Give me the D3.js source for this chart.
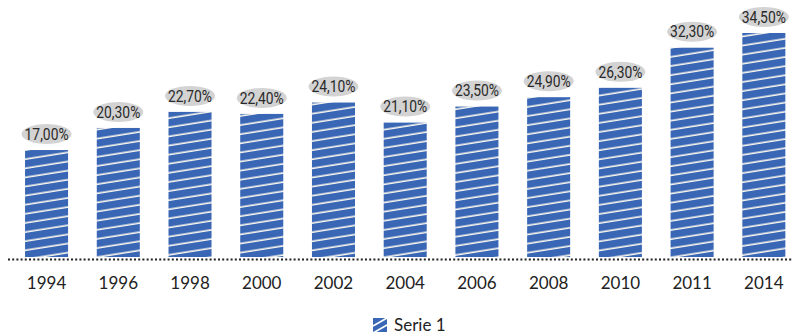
<!DOCTYPE html>
<html>
<head>
<meta charset="utf-8">
<script src="https://cdn.jsdelivr.net/npm/d3@7"></script>
<style>
  html, body { margin: 0; padding: 0; background: #fff; }
  svg { display: block; }
</style>
</head>
<body>
<svg id="chart" width="795" height="336"></svg>
<script>
// Share per year (%)
const years = ["1994", "1996", "1998", "2000", "2002", "2004", "2006", "2008", "2010", "2011", "2014"];
const values = [17.00, 20.30, 22.70, 22.40, 24.10, 21.10, 23.50, 24.90, 26.30, 32.30, 34.50];
const seriesName = "Serie 1";

const baseY = 257;
const svg = d3.select("#chart");

const x = d3.scaleBand()
  .domain(years)
  .range([10.7, 799.7])
  .paddingInner(0.4)
  .paddingOuter(0.2);

// zero sits just below the dotted baseline
const y = d3.scaleLinear()
  .domain([0, 34.5])
  .range([263.7, 33]);

const fmt = v => v.toFixed(2).replace(".", ",") + "%";

// Diagonal white stripes on blue
const defs = svg.append("defs");
const pat = defs.append("pattern")
  .attr("id", "hatch")
  .attr("patternUnits", "userSpaceOnUse")
  .attr("width", 9)
  .attr("height", 9)
  .attr("patternTransform", "rotate(-9)");
pat.append("rect").attr("width", 9).attr("height", 9).attr("fill", "#3a67b5");
pat.append("rect").attr("y", 7.4).attr("width", 9).attr("height", 1.6).attr("fill", "#fbf8ee");

// Bars
svg.append("g").selectAll("rect")
  .data(values)
  .join("rect")
  .attr("x", (d, i) => x(years[i]))
  .attr("y", d => y(d))
  .attr("width", x.bandwidth())
  .attr("height", d => baseY - y(d))
  .attr("fill", "url(#hatch)");

// Dotted baseline
svg.append("line")
  .attr("x1", 8).attr("x2", 793)
  .attr("y1", baseY + 2.5).attr("y2", baseY + 2.5)
  .attr("stroke", "#222")
  .attr("stroke-width", 2)
  .attr("stroke-dasharray", "2,2.2");

// Value labels on grey ellipses
const lab = svg.append("g").selectAll("g")
  .data(values)
  .join("g")
  .attr("transform", (d, i) => `translate(${x(years[i]) + x.bandwidth() / 2},${y(d) - 16})`);
lab.append("ellipse")
  .attr("rx", 25).attr("ry", 10)
  .attr("fill", "#d3d3d3");
lab.append("text")
  .attr("text-anchor", "middle")
  .attr("dy", "0.36em")
  .attr("font-family", "Roboto, sans-serif")
  .attr("font-size", 16)
  .attr("fill", "#2a2a2a")
  .attr("textLength", 44)
  .attr("lengthAdjust", "spacingAndGlyphs")
  .text(fmt);

// Year axis
const axis = svg.append("g")
  .attr("transform", `translate(0,${baseY})`)
  .call(d3.axisBottom(x).tickSize(0).tickPadding(20));
axis.select(".domain").remove();
axis.selectAll("text")
  .attr("font-family", "Lato, sans-serif")
  .attr("font-size", 17)
  .attr("fill", "#222");

// Legend
const leg = svg.append("g").attr("transform", "translate(373,318)");
leg.append("rect")
  .attr("width", 14).attr("height", 14)
  .attr("fill", "#3a67b5");
leg.append("line")
  .attr("x1", 0).attr("y1", 8).attr("x2", 14).attr("y2", 0)
  .attr("stroke", "#fff").attr("stroke-width", 1.6);
leg.append("line")
  .attr("x1", 0).attr("y1", 15).attr("x2", 14).attr("y2", 7)
  .attr("stroke", "#fff").attr("stroke-width", 1.6);
leg.append("text")
  .attr("x", 21).attr("y", 13)
  .attr("font-family", "Lato, sans-serif")
  .attr("font-size", 17)
  .attr("fill", "#222")
  .text(seriesName);
</script>
</body>
</html>
